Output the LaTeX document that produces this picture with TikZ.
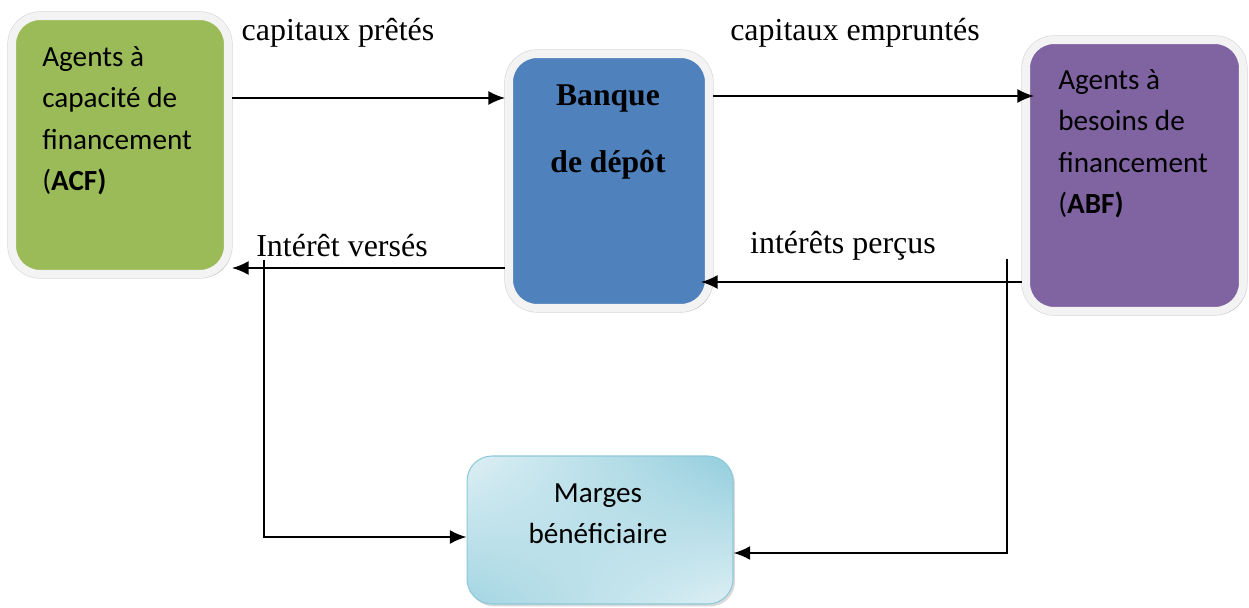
\documentclass[tikz,border=0pt]{standalone}
\usepackage{fontspec}
\setmainfont{Liberation Serif}
\newfontfamily\calfont{Carlito}
\usetikzlibrary{arrows.meta,shadows,shadings}
\definecolor{acfgreen}{HTML}{9BBB59}
\definecolor{bankblue}{HTML}{4F81BD}
\definecolor{abfpurple}{HTML}{8064A2}
\definecolor{framec}{HTML}{F3F3F3}
\definecolor{frameedge}{HTML}{D6D6D6}
\definecolor{mlight}{HTML}{DDEFF4}
\definecolor{mdark}{HTML}{93CEDD}
\definecolor{mborder}{HTML}{8CC9D9}
\begin{document}
\begin{tikzpicture}[x=0.02cm,y=-0.02cm,
  agentbox/.style={rectangle, rounded corners=0.56cm, inner sep=0pt,
    preaction={draw=frameedge, line width=0.185cm},
    draw=framec, line width=0.16cm,
    drop shadow={shadow xshift=0.06cm, shadow yshift=-0.07cm, fill=gray!55, opacity=0.7}},
  sanstext/.style={font=\calfont\fontsize{16.6}{23.6}\selectfont, inner sep=0pt, align=left},
  flowlabel/.style={font=\fontsize{18.2}{21}\selectfont, inner sep=0pt},
  flow/.style={line width=1.1pt, -{Latex[length=9.5pt,width=8pt]}}
]
\useasboundingbox (0,0) rectangle (1249,608);

% boxes
\node[agentbox, fill=acfgreen, minimum width=4.32cm, minimum height=5.16cm] (acf) at (120,145) {};
\node[agentbox, fill=bankblue, minimum width=4.0cm, minimum height=5.08cm] (bank) at (609,181) {};
\node[agentbox, fill=abfpurple, minimum width=4.34cm, minimum height=5.42cm] (abf) at (1134.5,175.5) {};
\node[rectangle, rounded corners=0.5cm, draw=mborder, line width=0.6pt,
      upper left=mlight, upper right=mdark, lower left=mdark!85, lower right=mlight,
      drop shadow={shadow xshift=0.04cm, shadow yshift=-0.05cm, fill=gray!50, opacity=0.6},
      minimum width=5.32cm, minimum height=2.96cm] (marges) at (600,530) {};

% box texts
\node[sanstext, anchor=north west] (acft) at (42,46) {Agents à\\capacité de\\financement\\(\textbf{ACF)}};
\node[sanstext, anchor=north west] (abft) at (1058,69) {Agents à\\besoins de\\financement\\(\textbf{ABF)}};
\node[font=\bfseries\fontsize{18}{38.5}\selectfont, align=center, inner sep=0pt, anchor=north] (bankt) at (608,84) {Banque\\de dépôt};
\node[sanstext, align=center, anchor=north] (margest) at (598,483) {Marges\\bénéficiaire};

% labels
\node[flowlabel] (l1) at (338,33) {capitaux prêtés};
\node[flowlabel] (l2) at (855,33) {capitaux empruntés};
\node[flowlabel] (l3) at (342,246) {Intérêt versés};
\node[flowlabel] (l4) at (843,246) {intérêts perçus};

% connectors
\draw[flow] (acf.east |- 0,98) -- (bank.west |- 0,98);
\draw[flow, shorten >=-0.24cm] (bank.east |- 0,96) -- (abf.west |- 0,96);
\draw[flow] (bank.west |- 0,268) -- (acf.east |- 0,268);
\draw[flow, shorten >=-0.24cm] (abf.west |- 0,282) -- (bank.east |- 0,282);

\coordinate (lt) at (264,260);
\coordinate (rt) at (1007,259);
\draw[flow] (lt) |- (marges.west |- 0,537);
\draw[flow] (rt) |- (marges.east |- 0,553);
\end{tikzpicture}
\end{document}
